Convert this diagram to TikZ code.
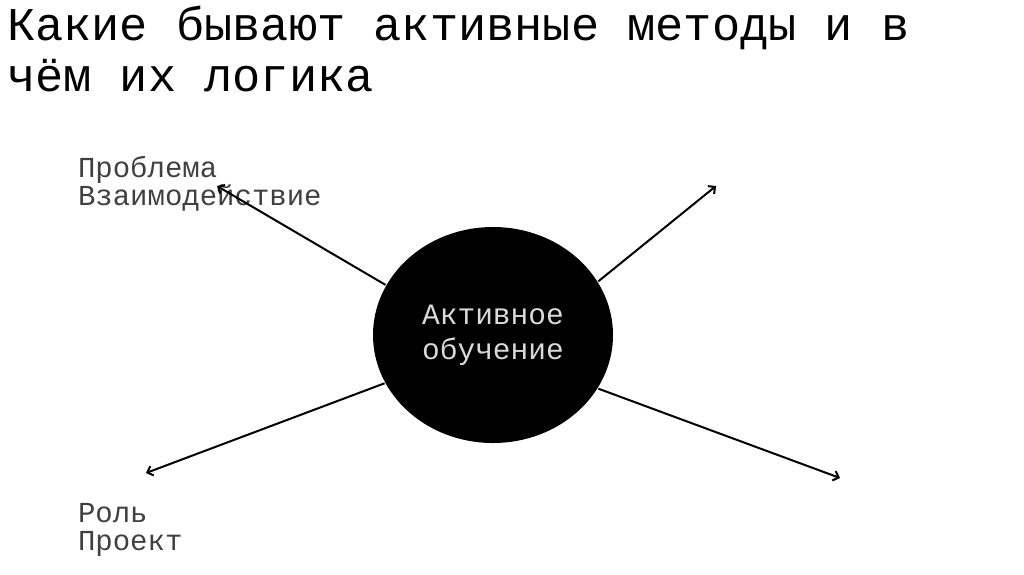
\documentclass[tikz,border=0pt]{standalone}
\usepackage{fontspec}
\setmainfont{Liberation Mono}
\usetikzlibrary{arrows.meta,shapes.geometric}

\begin{document}
\begin{tikzpicture}[x=1pt, y=-1pt, arrows={-Straight Barb[length=5pt,width=10pt]}, line width=2pt]
	\useasboundingbox (0,0) rectangle (1024,574);
	\node (T) [anchor=base west, inner sep=0, align=left, font=\fontsize{47}{51}\selectfont] at (6,91) {Какие бывают активные методы и в\\чём их логика};
	\node (M) [ellipse, fill=black, minimum width=240pt, minimum height=216pt, inner sep=0, text=black!15, align=center, font=\fontsize{29.5}{35}\selectfont] at (493,335) {Активное\\обучение};
	\node (P) [anchor=base west, inner sep=0, align=left, text=black!75, font=\fontsize{29}{28}\selectfont] at (77,205) {Проблема\\Взаимодействие};
	\node (R) [anchor=base west, inner sep=0, align=left, text=black!75, font=\fontsize{29}{28}\selectfont] at (77,550) {Роль\\Проект};

	\coordinate (A) at (217,186);
	\coordinate (B) at (716,186);
	\coordinate (C) at (840,478);
	\coordinate (D) at (146,473);

	\draw (M.155) to (A);
	\draw (M.27.6) to (B);
	\draw (M.-27.6) to (C);
	\draw (M.204.4) to (D);
\end{tikzpicture}
\end{document}
